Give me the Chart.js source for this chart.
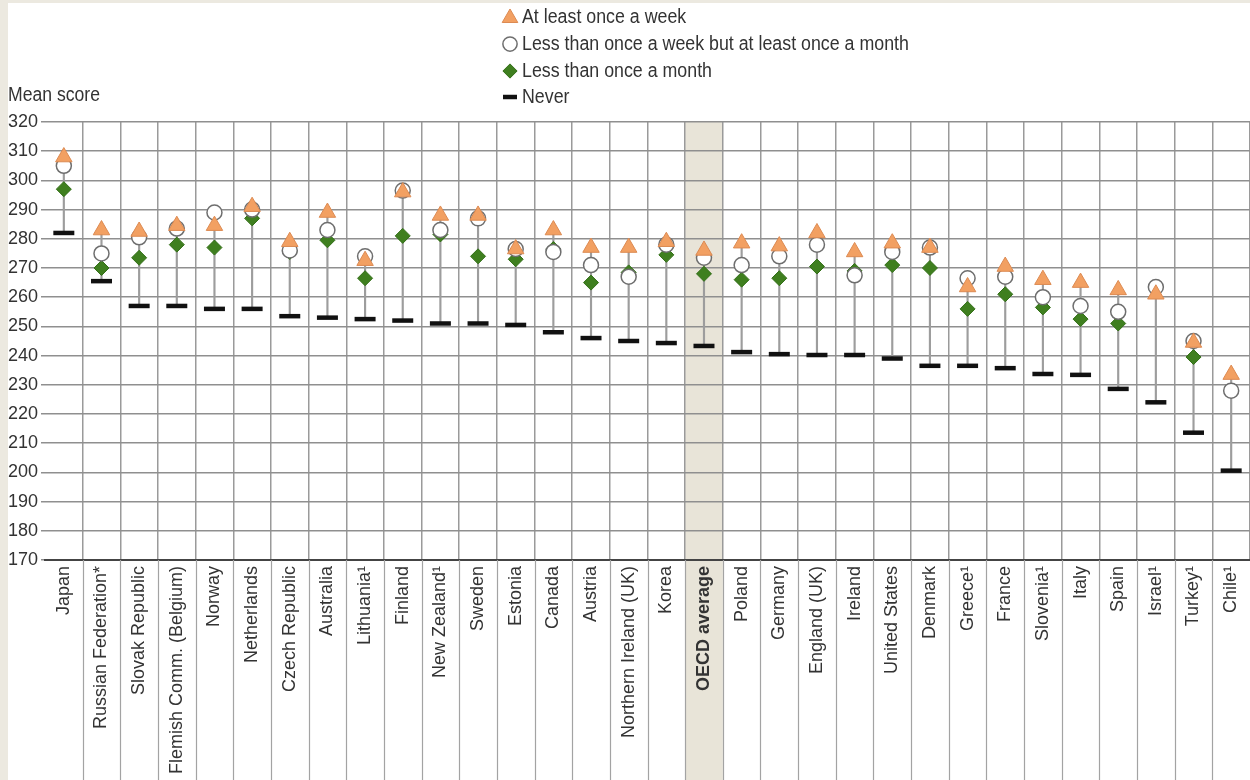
<!DOCTYPE html>
<html>
<head>
<meta charset="utf-8">
<script src="https://cdn.jsdelivr.net/npm/chart.js@4"></script>
<style>
  html, body { margin: 0; padding: 0; background: #ece9e0; overflow: hidden; }
  #wrap { position: absolute; left: 8px; top: 3px; width: 1242px; height: 777px; background: #fff; }
  canvas { display: block; }
</style>
</head>
<body>
<div id="wrap"><canvas id="chart" width="1242" height="777"></canvas></div>
<script>
const categories = ['Japan', 'Russian Federation*', 'Slovak Republic', 'Flemish Comm. (Belgium)', 'Norway',
  'Netherlands', 'Czech Republic', 'Australia', 'Lithuania¹', 'Finland', 'New Zealand¹', 'Sweden', 'Estonia',
  'Canada', 'Austria', 'Northern Ireland (UK)', 'Korea', 'OECD average', 'Poland', 'Germany', 'England (UK)',
  'Ireland', 'United States', 'Denmark', 'Greece¹', 'France', 'Slovenia¹', 'Italy', 'Spain', 'Israel¹',
  'Turkey¹', 'Chile¹'];

const weekly = [308, 283, 282.5, 284.5, 284.5, 291, 279, 289, 272.5, 296, 288, 288, 276.5, 283, 277, 277,
  279, 276, 278.5, 277.5, 282, 275.5, 278.5, 277, 263.5, 270.5, 266, 265, 262.5, 261, 244.5, 233.5];
const monthly = [305, 275, 280.5, 283.5, 289, 290, 276, 283, 274, 296.5, 283, 287, 276.5, 275.5, 271, 267,
  278, 273.5, 271, 274, 278, 267.5, 275.5, 277, 266.5, 267, 260, 257, 255, 263.5, 245, 228];
const lessMonthly = [297, 270, 273.5, 278, 277, 287, 275.5, 279.5, 266.5, 281, 281.5, 274, 273, 276.5, 265,
  268.5, 274.5, 268, 266, 266.5, 270.5, 269, 271, 270, 256, 261, 256.5, 252.5, 251, null, 239.5, null];
const never = [282, 265.5, 257, 257, 256, 256, 253.5, 253, 252.5, 252, 251, 251, 250.5, 248, 246, 245,
  244.3, 243.3, 241.2, 240.5, 240.2, 240.2, 239, 236.5, 236.5, 235.7, 233.7, 233.4, 228.6, 224, 213.6, 200.6];

const scoreTicks = [170, 180, 190, 200, 210, 220, 230, 240, 250, 260, 270, 280, 290, 300, 310, 320];
const legendLabels = ['At least once a week', 'Less than once a week but at least once a month',
  'Less than once a month', 'Never'];
const highlight = 'OECD average';

const sans = '"Liberation Sans", Arial, sans-serif';

// stem from "never" up to the highest of the four marks
const stems = categories.map((c, i) => {
  const vals = [weekly[i], monthly[i], lessMonthly[i], never[i]].filter(v => v !== null);
  return [never[i], Math.max(...vals)];
});

const markStyles = [
  { pointStyle: 'triangle', radius: 9.5, backgroundColor: '#f2a062', borderColor: '#dc8a52', borderWidth: 1 },
  { pointStyle: 'circle', radius: 7.5, backgroundColor: '#ffffff', borderColor: '#6e6e6e', borderWidth: 1.5 },
  { pointStyle: 'rectRot', radius: 7.5, backgroundColor: '#3f7f1f', borderColor: '#336f18', borderWidth: 1 },
  { pointStyle: 'line', radius: 10.5, backgroundColor: '#111', borderColor: '#111', borderWidth: 4.5 }
];

function pointSet(label, data, st, order) {
  return {
    type: 'line', label, data, order, showLine: false,
    pointStyle: st.pointStyle, pointRadius: st.radius, pointHoverRadius: st.radius,
    backgroundColor: st.backgroundColor, borderColor: st.borderColor,
    pointBackgroundColor: st.backgroundColor, pointBorderColor: st.borderColor,
    pointBorderWidth: st.borderWidth
  };
}

// text squeezed sideways, the source uses a narrow face
function narrowText(ctx, txt, x, y, squeeze) {
  ctx.save();
  ctx.translate(x, y);
  ctx.scale(squeeze, 1);
  ctx.fillText(txt, 0, 0);
  ctx.restore();
}

const shadePlugin = {
  id: 'shade',
  beforeDraw(chart) {
    const x = chart.scales.x, ctx = chart.ctx;
    const i = categories.indexOf(highlight);
    const half = (x.getPixelForValue(1) - x.getPixelForValue(0)) / 2;
    const cx = x.getPixelForValue(i);
    ctx.save();
    ctx.fillStyle = '#e8e4d8';
    ctx.fillRect(cx - half, chart.chartArea.top, half * 2, chart.height - chart.chartArea.top);
    ctx.restore();
  },
  afterDraw(chart) {
    const x = chart.scales.x, ctx = chart.ctx, area = chart.chartArea;
    const half = (x.getPixelForValue(1) - x.getPixelForValue(0)) / 2;
    ctx.save();
    // separators running down between the category labels
    ctx.strokeStyle = '#a3a3a3';
    ctx.lineWidth = 1.2;
    for (let i = 1; i < categories.length; i++) {
      const bx = Math.round(x.getPixelForValue(i) - half) + 0.5;
      ctx.beginPath();
      ctx.moveTo(bx, area.bottom);
      ctx.lineTo(bx, chart.height);
      ctx.stroke();
    }
    // axis title
    ctx.fillStyle = '#333';
    ctx.font = '20px ' + sans;
    ctx.textBaseline = 'middle';
    ctx.textAlign = 'left';
    narrowText(ctx, 'Mean score', 0, 92, 0.88);
    // legend
    const rows = [14, 41, 68, 94];
    legendLabels.forEach((txt, k) => {
      const st = markStyles[k];
      ctx.fillStyle = st.backgroundColor;
      ctx.strokeStyle = st.borderColor;
      ctx.lineWidth = st.borderWidth;
      const r = k === 3 ? 7 : st.radius * 0.95;
      Chart.helpers.drawPoint(ctx, { pointStyle: st.pointStyle, radius: r, rotation: 0, borderWidth: st.borderWidth }, 502, rows[k] + (k === 0 ? 1 : 0));
      ctx.fillStyle = '#333';
      narrowText(ctx, txt, 514, rows[k], 0.89);
    });
    ctx.restore();
  }
};

new Chart(document.getElementById('chart'), {
  data: {
    labels: categories,
    datasets: [
      pointSet(legendLabels[0], weekly, markStyles[0], 0),
      pointSet(legendLabels[1], monthly, markStyles[1], 1),
      pointSet(legendLabels[2], lessMonthly, markStyles[2], 2),
      pointSet(legendLabels[3], never, markStyles[3], 3),
      { type: 'bar', label: 'range', data: stems, order: 4, barThickness: 1.5,
        backgroundColor: '#9d9d9d', borderWidth: 0 }
    ]
  },
  options: {
    responsive: false,
    devicePixelRatio: 1,
    animation: false,
    layout: { autoPadding: false, padding: { top: 119, left: 0, right: 0, bottom: 0 } },
    plugins: { legend: { display: false }, tooltip: { enabled: false } },
    scales: {
      x: {
        offset: true,
        grid: {
          offset: true,
          drawTicks: false,
          lineWidth: 1.5,
          color: c => c.index === 0 ? 'rgba(0,0,0,0)' : '#9a9a9a'
        },
        border: { color: '#444', width: 2 },
        ticks: {
          autoSkip: false, minRotation: 90, maxRotation: 90, padding: 6, color: '#333',
          font: c => ({ family: sans, size: 18,
            weight: c.tick && c.tick.label === highlight ? 'bold' : 'normal' })
        },
        afterFit: s => { s.height = 220; s.paddingLeft = 0; s.paddingRight = 0; }
      },
      y: {
        min: scoreTicks[0],
        max: scoreTicks[scoreTicks.length - 1],
        afterBuildTicks: s => { s.ticks = scoreTicks.map(v => ({ value: v })); },
        grid: { color: '#8f8f8f', lineWidth: 1.5, tickLength: 4 },
        border: { display: false },
        ticks: { padding: 3, color: '#333', font: { family: sans, size: 18 } },
        afterFit: s => { s.width = 37; s.paddingTop = 0; s.paddingBottom = 0; }
      }
    }
  },
  plugins: [shadePlugin]
});
</script>
</body>
</html>
